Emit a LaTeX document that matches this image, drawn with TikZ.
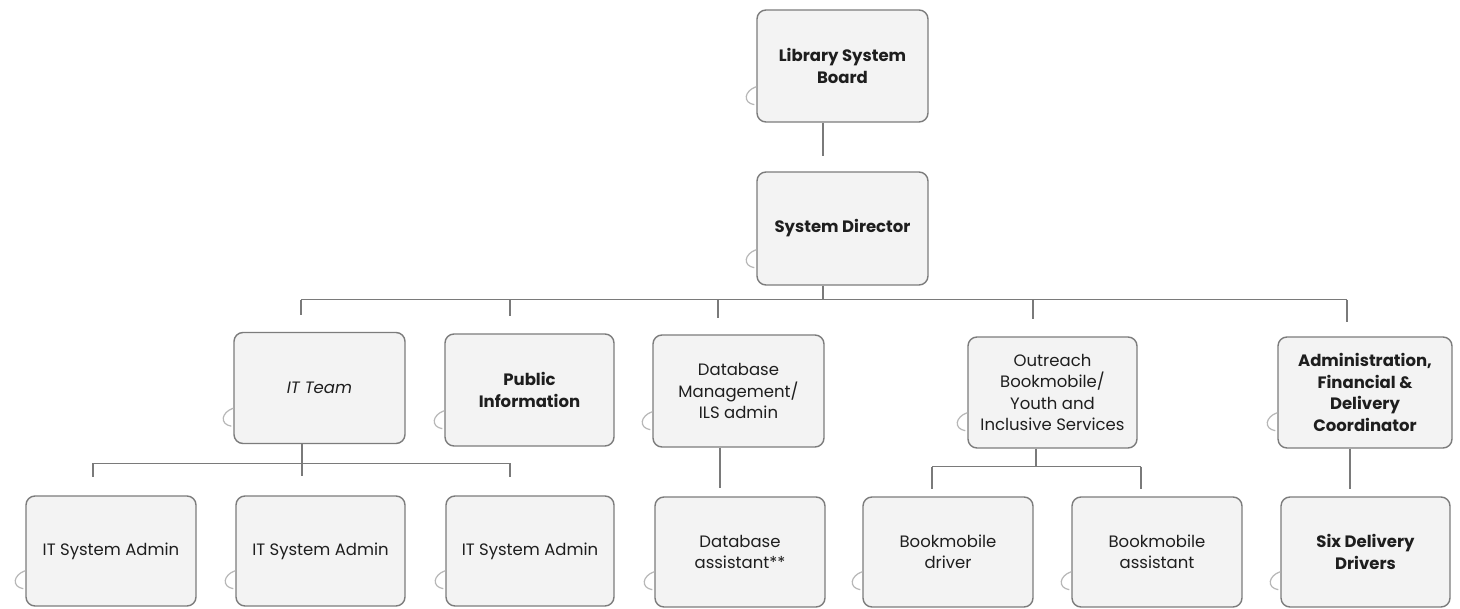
\documentclass[tikz,border=0pt]{standalone}
\usepackage{fontspec}
\setmainfont{Poppins}
\usetikzlibrary{calc}
\definecolor{boxfill}{HTML}{F3F3F3}
\definecolor{boxline}{HTML}{7C7C7C}
\definecolor{linkc}{HTML}{7A7A7A}
\definecolor{txt}{HTML}{1E1E1E}
\begin{document}
\begin{tikzpicture}[x=1pt,y=-1pt,
  box/.style={draw=boxline, fill=boxfill, line width=1.4pt, rounded corners=9pt,
    align=center, text=txt, inner sep=2pt,
    font=\fontsize{16.5}{21.5}\selectfont},
  top/.style={box, minimum width=171pt, minimum height=112pt},
  mid/.style={box, minimum height=111pt},
  low/.style={box, minimum height=110pt, minimum width=170pt},
  link/.style={draw=linkc, line width=1.3pt},
  curl/.style={draw=boxline!55, line width=1.2pt}]
\useasboundingbox (0,0) rectangle (1460,609);
\fill[white] (0,0) rectangle (1460,609);

% level 0/1
\node[top] (board) at (842.5,66) {\bfseries Library System\\\bfseries Board};
\node[top, minimum height=113pt] (director) at (842.5,228.5) {\bfseries System Director};

% level 2
\node[mid, minimum width=171pt] (itteam) at (319.5,388) {\itshape IT Team};
\node[mid, minimum width=169pt, minimum height=112pt] (public) at (529.5,390) {\bfseries Public\\\bfseries Information};
\node[mid, minimum width=171pt, minimum height=112pt] (dbm) at (738.5,391) {Database\\Management/\\ILS admin};
\node[mid, minimum width=169pt] (outreach) at (1052.5,392.5) {Outreach\\Bookmobile/\\Youth and\\Inclusive Services};
\node[mid, minimum width=174pt] (admin) at (1365,392.5) {\bfseries Administration,\\\bfseries Financial \&\\\bfseries Delivery\\\bfseries Coordinator};

% level 3
\node[low] (it1) at (111,551) {IT System Admin};
\node[low, minimum width=169pt] (it2) at (320.5,551) {IT System Admin};
\node[low, minimum width=168pt] (it3) at (530,551) {IT System Admin};
\node[low] (dba) at (740,552) {Database\\assistant**};
\node[low] (bdrv) at (948,552) {Bookmobile\\driver};
\node[low] (bast) at (1157,552) {Bookmobile\\assistant};
\node[low, minimum width=169pt] (six) at (1365.5,552) {\bfseries Six Delivery\\\bfseries Drivers};

% page curls
\foreach \n in {board,director,itteam,public,dbm,outreach,admin,it1,it2,it3,dba,bdrv,bast,six}{
  \draw[curl] ($(\n.south west)+(0,-36)$) .. controls ($(\n.south west)+(-12,-32)$) and ($(\n.south west)+(-14,-20)$) .. ($(\n.south west)+(-2,-18)$);
}

% connector x positions
\coordinate (cB) at ($(board.south)+(-19.5,0)$);
\coordinate (cD) at ($(director.south)+(-19.5,0)$);
\coordinate (x1) at ($(itteam.north)+(-18.5,0)$);
\coordinate (x2) at ($(public.north)+(-19.5,0)$);
\coordinate (x3) at ($(dbm.north)+(-20.5,0)$);
\coordinate (x4) at ($(outreach.north)+(-19.5,0)$);
\coordinate (x5) at ($(admin.north)+(-18,0)$);
\coordinate (cIT) at ($(itteam.south)+(-17.5,0)$);
\coordinate (y1) at ($(it1.north)+(-18,0)$);
\coordinate (y3) at ($(it3.north)+(-20,0)$);
\coordinate (cDB) at ($(dbm.south)+(-18.5,0)$);
\coordinate (cOR) at ($(outreach.south)+(-16.5,0)$);
\coordinate (yb1) at ($(bdrv.north)+(-16,0)$);
\coordinate (yb2) at ($(bast.north)+(-16,0)$);
\coordinate (cAD) at ($(admin.south)+(-15,0)$);

% board -> director
\draw[link] (cB) -- ++(0,33);

% director -> level 2
\coordinate (hub) at ($(cD)+(0,14)$);
\draw[link] (cD) -- (hub);
\draw[link] (x1 |- hub) -- (x5 |- hub);
\draw[link] (x1 |- hub) -- ++(0,15);
\draw[link] (x2 |- hub) -- ++(0,16);
\draw[link] (x3 |- hub) -- ++(0,18);
\draw[link] (x4 |- hub) -- ++(0,19);
\draw[link] (x5 |- hub) -- ++(0,22);

% IT team branch
\coordinate (itj) at ($(cIT)+(0,19)$);
\draw[link] (cIT) -- ++(0,32);
\draw[link] (y1 |- itj) -- (y3 |- itj);
\draw[link] (y1 |- itj) -- ++(0,14);
\draw[link] (y3 |- itj) -- ++(0,14);

% database branch
\draw[link] (cDB) -- ++(0,40);

% outreach branch
\coordinate (orj) at ($(cOR)+(0,18)$);
\draw[link] (cOR) -- (orj);
\draw[link] (yb1 |- orj) -- (yb2 |- orj);
\draw[link] (yb1 |- orj) -- ++(0,22);
\draw[link] (yb2 |- orj) -- ++(0,22);

% admin branch
\draw[link] (cAD) -- ++(0,40);
\end{tikzpicture}
\end{document}
